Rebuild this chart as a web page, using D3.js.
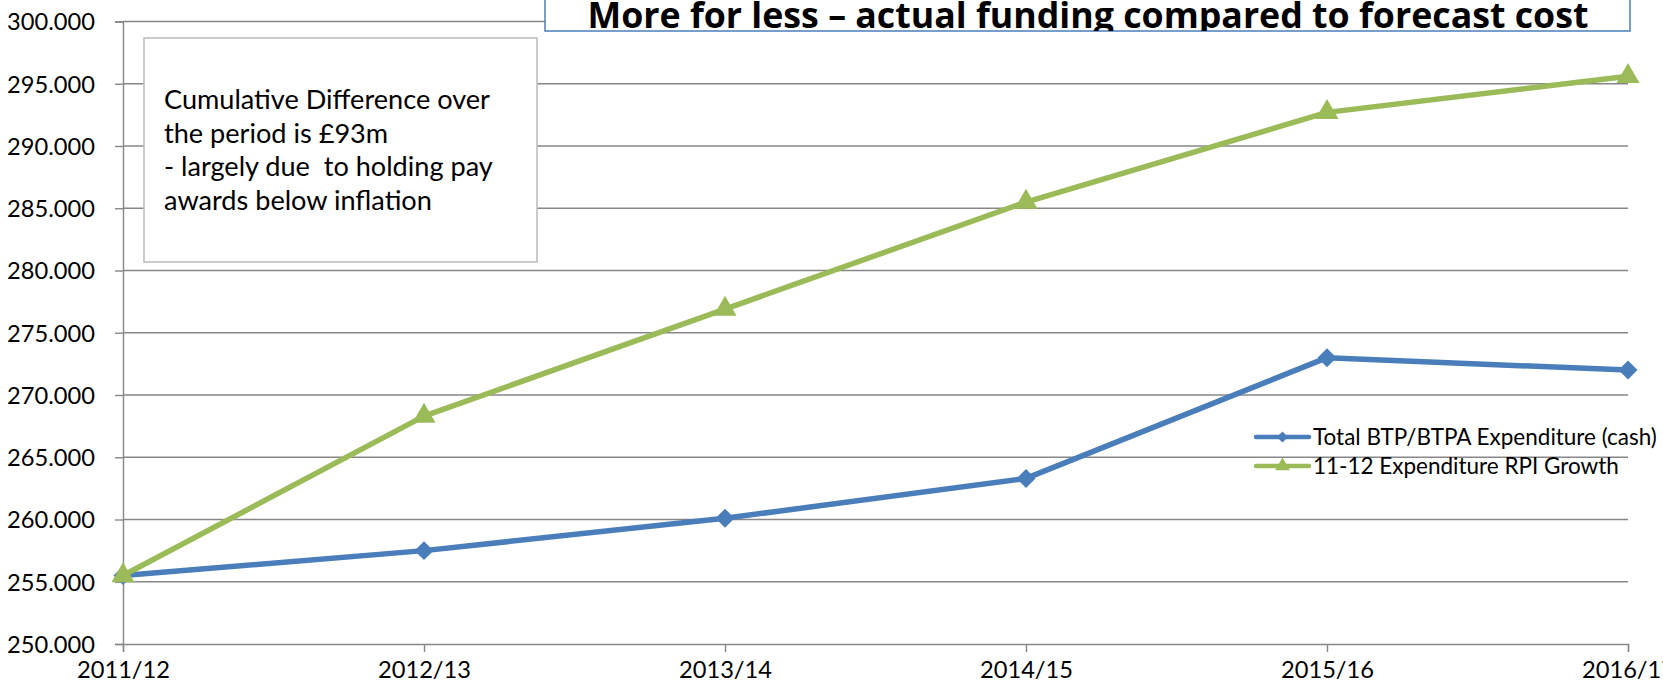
<!DOCTYPE html>
<html>
<head>
<meta charset="utf-8">
<script src="https://cdn.jsdelivr.net/npm/d3@7"></script>
<style>
  html, body { margin: 0; padding: 0; background: #fff; overflow: hidden; }
  svg { display: block; }
</style>
</head>
<body>
<svg id="chart" width="1663" height="683"></svg>
<script>
const categories = ["2011/12", "2012/13", "2013/14", "2014/15", "2015/16", "2016/17"];
const cashValues = [255.5, 257.5, 260.1, 263.3, 273.0, 272.0];
const rpiValues  = [255.5, 268.3, 276.9, 285.5, 292.7, 295.6];
const yTicks = [250, 255, 260, 265, 270, 275, 280, 285, 290, 295, 300];
const seriesNames = ["Total BTP/BTPA Expenditure (cash)", "11-12 Expenditure RPI Growth"];
const titleText = "More for less \u2013 actual funding compared to forecast cost";
const annotationLines = [
  "Cumulative Difference over",
  "the period is \u00a393m",
  "- largely due \u00a0to holding pay",
  "awards below inflation"
];

const FONT = "Lato, 'Open Sans', sans-serif";
const BLUE = "#4a7ebb";
const GREEN = "#9bbb59";
const GRID = "#878787";

const svg = d3.select("#chart");
const plot = { left: 123, right: 1628, top: 21.5, bottom: 644 };

const x = d3.scalePoint().domain(categories).range([plot.left, plot.right]);
const y = d3.scaleLinear().domain([250, 300]).range([plot.bottom, plot.top]);

function fit(sel, target) {
  const w = sel.node().getComputedTextLength();
  const s = parseFloat(sel.attr("font-size"));
  sel.attr("font-size", s * target / w);
  return s * target / w;
}

// gridlines
svg.append("g").selectAll("line")
  .data(yTicks.filter(d => d > 250))
  .join("line")
  .attr("x1", plot.left).attr("x2", plot.right)
  .attr("y1", d => y(d)).attr("y2", d => y(d))
  .attr("stroke", GRID).attr("stroke-width", 1.4);

// y axis
const yAxis = svg.append("g")
  .attr("transform", `translate(${plot.left},0)`)
  .call(d3.axisLeft(y).tickValues(yTicks).tickFormat(d3.format(".3f")).tickSize(8).tickPadding(20));
yAxis.select(".domain").attr("stroke", GRID).attr("stroke-width", 1.4);
yAxis.selectAll(".tick line").attr("stroke", GRID).attr("stroke-width", 1.4);
yAxis.selectAll("text").attr("font-family", FONT).attr("font-size", 22).attr("fill", "#000");
const tickSize = fit(yAxis.select(".tick text"), 88);
yAxis.selectAll("text").attr("font-size", tickSize).attr("dy", "0.35em");

// x axis
const xAxis = svg.append("g")
  .attr("transform", `translate(0,${plot.bottom})`)
  .call(d3.axisBottom(x).tickSize(8).tickPadding(6));
xAxis.select(".domain").attr("stroke", GRID).attr("stroke-width", 1.4);
xAxis.selectAll(".tick line").attr("stroke", GRID).attr("stroke-width", 1.4);
xAxis.selectAll("text")
  .attr("font-family", FONT).attr("font-size", tickSize).attr("fill", "#000")
  .attr("y", 34).attr("dy", 0);

// annotation box
svg.append("rect")
  .attr("x", 144).attr("y", 38).attr("width", 393).attr("height", 224)
  .attr("fill", "#fff").attr("stroke", "#bfbfbf").attr("stroke-width", 1.6);
const ann = svg.append("g");
const annT = ann.selectAll("text").data(annotationLines).join("text")
  .attr("x", 164).attr("y", (d, i) => 109 + i * 33.6)
  .attr("font-family", FONT).attr("font-size", 22).attr("fill", "#000")
  .attr("xml:space", "preserve")
  .text(d => d);
const annSize = fit(d3.select(annT.nodes()[0]), 326);
annT.attr("font-size", annSize);

// title box
svg.append("clipPath").attr("id", "titleClip")
  .append("rect").attr("x", 545).attr("y", -5).attr("width", 1085).attr("height", 36);
svg.append("rect")
  .attr("x", 545).attr("y", -5).attr("width", 1085).attr("height", 36)
  .attr("fill", "#fff").attr("stroke", "#4a7ebb").attr("stroke-width", 1.5);
svg.append("g").attr("clip-path", "url(#titleClip)")
  .append("text")
  .attr("x", 1088).attr("y", 28)
  .attr("text-anchor", "middle")
  .attr("font-family", "'Open Sans', Lato, sans-serif").attr("font-weight", "bold")
  .attr("font-size", 36).attr("fill", "#000")
  .attr("textLength", 1001).attr("lengthAdjust", "spacingAndGlyphs")
  .text(titleText);

// series
const series = [
  { name: seriesNames[0], values: cashValues, color: BLUE, marker: "diamond" },
  { name: seriesNames[1], values: rpiValues, color: GREEN, marker: "triangle" }
];
const line = d3.line().x((d, i) => x(categories[i])).y(d => y(d));
const sym = {
  diamond: d3.symbol().type(d3.symbolDiamond2).size(230),
  triangle: d3.symbol().type(d3.symbolTriangle).size(230)
};

series.forEach(s => {
  svg.append("path").datum(s.values)
    .attr("d", line).attr("fill", "none")
    .attr("stroke", s.color).attr("stroke-width", 5.5).attr("stroke-linejoin", "round");
  svg.append("g").selectAll("path").data(s.values).join("path")
    .attr("d", sym[s.marker])
    .attr("transform", (d, i) => `translate(${x(categories[i])},${y(d)})`)
    .attr("fill", s.color);
});

// legend
const legend = svg.append("g");
series.forEach((s, i) => {
  const ly = 437 + i * 29;
  legend.append("line").attr("x1", 1256).attr("x2", 1309).attr("y1", ly).attr("y2", ly)
    .attr("stroke", s.color).attr("stroke-width", 4.5).attr("stroke-linecap", "round");
  legend.append("path")
    .attr("d", d3.symbol().type(s.marker === "diamond" ? d3.symbolDiamond2 : d3.symbolTriangle).size(s.marker === "diamond" ? 80 : 95))
    .attr("transform", `translate(1282.5,${ly})`).attr("fill", s.color);
  legend.append("text").attr("class", "lt").attr("x", 1313).attr("y", ly).attr("dy", "0.35em")
    .attr("font-family", FONT).attr("font-size", 20).attr("fill", "#000")
    .text(s.name);
});
const lts = legend.selectAll(".lt");
const legSize = fit(d3.select(lts.nodes()[0]), 344);
lts.attr("font-size", legSize);
</script>
</body>
</html>
